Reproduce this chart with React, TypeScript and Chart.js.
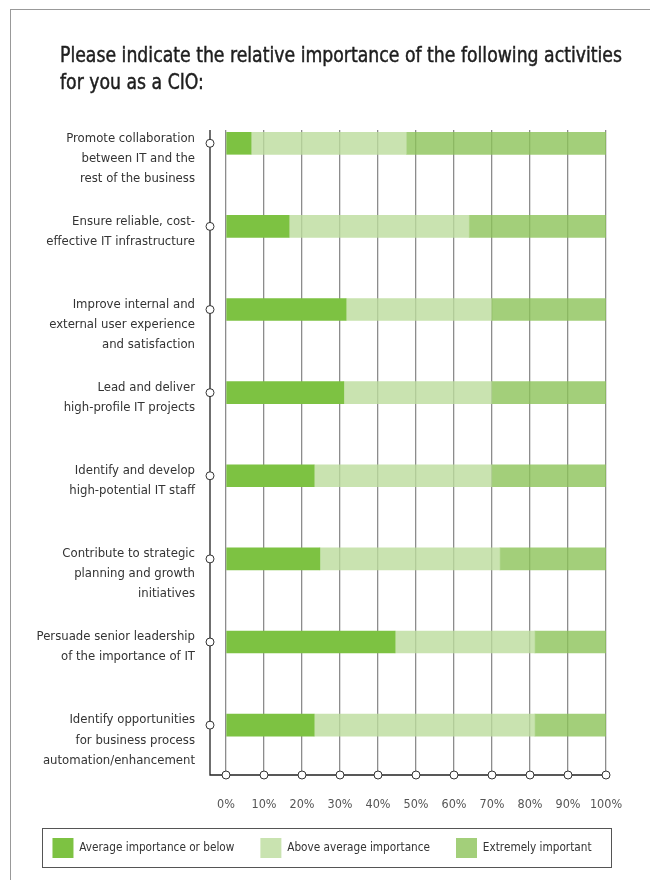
import React, { useEffect, useLayoutEffect, useRef } from "react";
import { Chart, registerables } from "chart.js";

Chart.register(...registerables);

// ---- data ----
const titleLines = [
  "Please indicate the relative importance of the following activities",
  "for you as a CIO:",
];

const categories: string[][] = [
  ["Promote collaboration", "between IT and the", "rest of the business"],
  ["Ensure reliable, cost-", "effective IT infrastructure"],
  ["Improve internal and", "external user experience", "and satisfaction"],
  ["Lead and deliver", "high-profile IT projects"],
  ["Identify and develop", "high-potential IT staff"],
  ["Contribute to strategic", "planning and growth", "initiatives"],
  ["Persuade senior leadership", "of the importance of IT"],
  ["Identify opportunities", "for business process", "automation/enhancement"],
];

const seriesNames = [
  "Average importance or below",
  "Above average importance",
  "Extremely important",
];

const avgOrBelow = [6.6, 16.6, 31.6, 31, 23.2, 24.7, 44.5, 23.2];
const aboveAverage = [40.9, 47.4, 38.3, 39, 46.8, 47.4, 36.8, 58.1];
const extremely = [52.5, 36, 30, 30, 30, 27.9, 18.7, 18.7];

const percentTicks = [0, 10, 20, 30, 40, 50, 60, 70, 80, 90, 100];

const FONT = "'DejaVu Sans Condensed', 'DejaVu Sans', sans-serif";

const colors = ["#7DC242", "rgba(188,220,156,0.8)", "rgba(140,195,89,0.8)"];

const decorPlugin = {
  id: "decor",
  afterDatasetsDraw(chart: any) {
    const { ctx, chartArea, scales } = chart;
    const x = scales.x;
    const y = scales.y;
    const axisX = chartArea.left - 16;
    ctx.save();
    ctx.strokeStyle = "#222";
    ctx.lineWidth = 1.3;
    ctx.beginPath();
    ctx.moveTo(axisX, chartArea.top);
    ctx.lineTo(axisX, chartArea.bottom);
    ctx.lineTo(chartArea.right, chartArea.bottom);
    ctx.stroke();
    ctx.fillStyle = "#fff";
    ctx.strokeStyle = "#333";
    ctx.lineWidth = 1;
    const r = 4;
    categories.forEach((_, i) => {
      const py = y.getPixelForValue(i);
      ctx.beginPath();
      ctx.arc(axisX, py, r, 0, Math.PI * 2);
      ctx.fill();
      ctx.stroke();
    });
    percentTicks.forEach((t) => {
      const px = x.getPixelForValue(t);
      ctx.beginPath();
      ctx.arc(px, chartArea.bottom, r, 0, Math.PI * 2);
      ctx.fill();
      ctx.stroke();
    });
    ctx.restore();
  },
  afterDraw(chart: any) {
    const lg = chart.legend;
    if (!lg || !lg.legendHitBoxes || !lg.legendHitBoxes.length) return;
    const hb = lg.legendHitBoxes;
    const first = hb[0];
    const last = hb[hb.length - 1];
    const { ctx } = chart;
    ctx.save();
    ctx.strokeStyle = "#555";
    ctx.lineWidth = 1;
    const l = Math.round(first.left - 10) + 0.5;
    const r = Math.round(last.left + last.width + 19) + 0.5;
    const t = Math.round(first.top - 10) + 0.5;
    const b = Math.round(first.top + first.height + 9) + 0.5;
    ctx.strokeRect(l, t, r - l, b - t);
    ctx.restore();
  },
};

function Title() {
  const ref = useRef<HTMLDivElement | null>(null);
  useLayoutEffect(() => {
    const el = ref.current;
    if (!el) return;
    const first = el.firstElementChild as HTMLElement | null;
    if (!first) return;
    const w = first.getBoundingClientRect().width;
    if (w > 0) el.style.transform = `scaleX(${562 / w})`;
  }, []);
  return (
    <div
      ref={ref}
      style={{
        position: "absolute",
        left: 60,
        top: 42,
        fontFamily: FONT,
        fontWeight: "normal",
        fontSize: 21,
        lineHeight: "27px",
        color: "#1e1e1e",
        WebkitTextStroke: "0.45px #1e1e1e",
        whiteSpace: "nowrap",
        transformOrigin: "0 0",
      }}
    >
      {titleLines.map((t, i) => (
        <span key={i} style={{ display: "table" }}>
          {t}
        </span>
      ))}
    </div>
  );
}

export default function App() {
  const ref = useRef<HTMLCanvasElement | null>(null);

  useEffect(() => {
    if (!ref.current) return;
    const chart = new Chart(ref.current, {
      type: "bar",
      data: {
        datasets: [avgOrBelow, aboveAverage, extremely].map((vals, k) => ({
          label: seriesNames[k],
          data: vals.map((v, i) => ({ x: v, y: i })),
          backgroundColor: colors[k],
          borderWidth: 0,
          barThickness: 22,
        })),
      },
      options: {
        indexAxis: "y",
        responsive: false,
        animation: false,
        layout: { padding: { left: 0, right: 6, top: 130, bottom: 12 } },
        scales: {
          x: {
            type: "linear",
            stacked: true,
            min: 0,
            max: 100,
            offset: false,
            ticks: {
              stepSize: 10,
              padding: 22,
              maxRotation: 0,
              minRotation: 0,
              autoSkip: false,
              color: "#555",
              font: { family: FONT, size: 12.5 },
              callback: (v: any) => `${v}%`,
            },
            grid: { drawTicks: false, color: "#8c8c8c", lineWidth: 1.3, offset: false },
            border: { display: false },
            afterBuildTicks: (s: any) => {
              s.ticks = percentTicks.map((v) => ({ value: v }));
            },
            afterFit: (s: any) => {
              s.height = 37;
            },
          },
          y: {
            type: "linear",
            stacked: true,
            reverse: true,
            offset: false,
            min: -0.16,
            max: 7.6,
            grid: { display: false, drawTicks: false, offset: false },
            border: { display: false },
            ticks: {
              padding: 31,
              labelOffset: 15,
              color: "#333",
              font: { family: FONT, size: 13, lineHeight: 1.55 },
              callback: (v: any) => {
                const lines = categories[Math.round(Number(v))];
                if (!lines) return "";
                return lines.length < 3 ? [...lines, ""] : lines;
              },
            },
            afterBuildTicks: (s: any) => {
              s.ticks = categories.map((_, i) => ({ value: i }));
            },
            afterFit: (s: any) => {
              s.width = 226;
            },
          },
          rightSpace: {
            type: "linear",
            position: "right",
            display: true,
            grid: { display: false, drawTicks: false },
            border: { display: false },
            ticks: { display: false },
            afterFit: (s: any) => {
              s.width = 38;
            },
          },
        },
        plugins: {
          title: { display: false },
          tooltip: { enabled: false },
          legend: {
            position: "bottom",
            align: "center",
            labels: {
              boxWidth: 21,
              boxHeight: 20,
              padding: 26,
              color: "#333",
              font: { family: FONT, size: 11.7 },
            },
          },
        },
      },
      plugins: [decorPlugin],
    });
    return () => chart.destroy();
  }, []);

  return (
    <div style={{ position: "absolute", left: 0, top: 0, width: 650, height: 880, overflow: "hidden", background: "#fff" }}>
      <div
        style={{
          position: "absolute",
          left: 10,
          top: 9,
          right: 0,
          bottom: 0,
          borderTop: "1px solid #999",
          borderLeft: "1px solid #999",
        }}
      />
      <canvas ref={ref} width={650} height={880} style={{ position: "absolute", left: 0, top: 0 }} />
      <Title />
    </div>
  );
}
